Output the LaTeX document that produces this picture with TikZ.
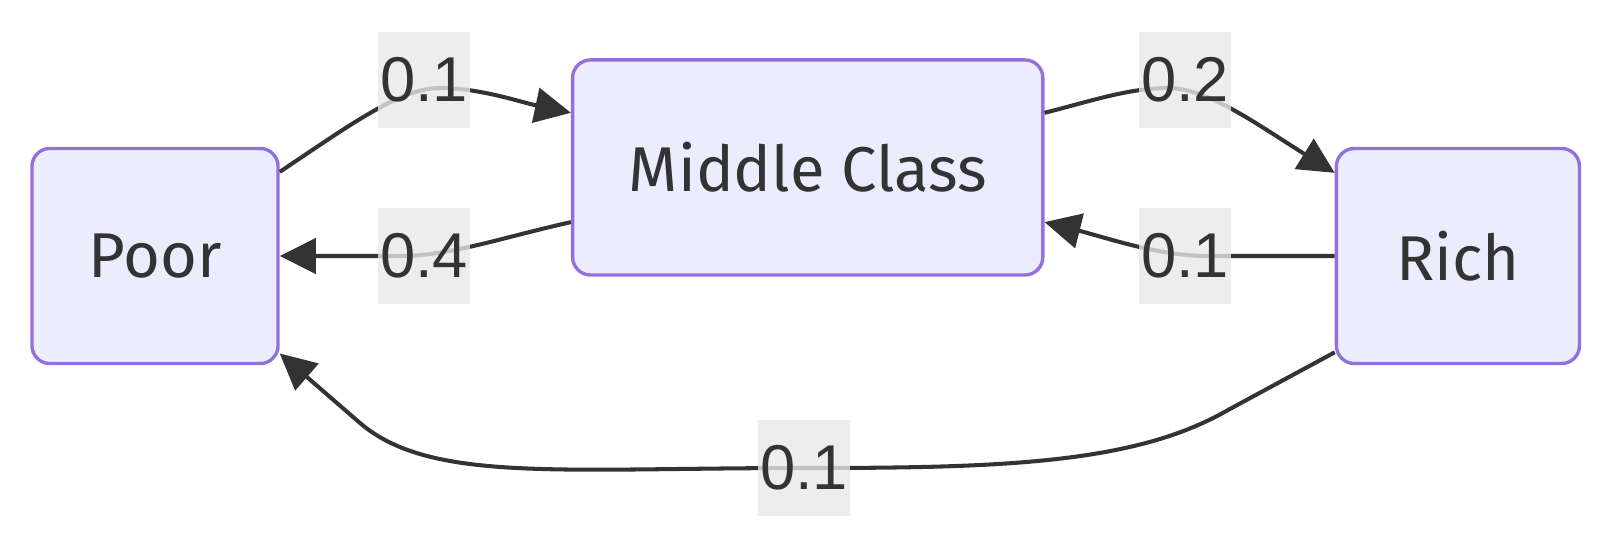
\documentclass[tikz,border=0pt]{standalone}
\usepackage{fontspec}
\setmainfont{Fira Sans}
\newfontfamily\probfont{Liberation Sans}
\usetikzlibrary{positioning,arrows.meta}

\definecolor{boxfill}{HTML}{ECECFF}
\definecolor{boxline}{HTML}{9370DB}
\definecolor{ink}{HTML}{333333}
\definecolor{probfill}{HTML}{E8E8E8}

\tikzset{
  state/.style={draw=boxline, fill=boxfill, line width=0.95pt, rounded corners=0.18cm,
    minimum height=2.15cm, inner sep=0pt, text=ink, font=\fontsize{18}{22}\selectfont},
  prob/.style={fill=probfill, fill opacity=0.8, text opacity=1, text=ink, inner sep=0pt,
    minimum width=0.92cm, minimum height=0.96cm, font=\probfont\fontsize{18}{22}\selectfont},
  trans/.style={draw=ink, line width=1.15pt, -{Triangle[length=0.36cm,width=0.35cm]}}
}

\begin{document}
\begin{tikzpicture}[x=0.01cm, y=-0.01cm]
    \useasboundingbox (0,0) rectangle (1604,548);

    \node[state, minimum width=2.46cm]                                          (poor)   at (155,256) {Poor};
    \node[state, minimum width=4.70cm, right=2.91cm of poor, yshift=0.885cm]    (middle) {Middle Class};
    \node[state, minimum width=2.43cm, right=2.90cm of middle, yshift=-0.885cm] (rich)   {Rich};

    \draw[trans] (poor.34) .. controls (350,125) and (400,88) .. (440,88)
        .. controls (480,88) and (520,102) .. (middle.167);
    \draw[trans] (middle.13) .. controls (1088,102) and (1128,88) .. (1168,88)
        .. controls (1208,88) and (1258,125) .. (rich.146);
    \draw[trans] (middle.193) .. controls (500,238) and (450,256) .. (400,256) -- (poor.east);
    \draw[trans] (rich.west) -- (1208,256) .. controls (1158,256) and (1108,238) .. (middle.347);
    \draw[trans] (rich.218) -- (1228,410) .. controls (1135,464) and (1000,468) .. (804,468)
        .. controls (560,468) and (430,483) .. (360,423) -- (poor.322);

    \node[prob] (p-pm) at (424,80)  {0.1};
    \node[prob] (p-mr) at (1185,80) {0.2};
    \node[prob] (p-mp) at (424,256) {0.4};
    \node[prob] (p-rm) at (1185,256) {0.1};
    \node[prob] (p-rp) at (804,468) {0.1};
\end{tikzpicture}
\end{document}
